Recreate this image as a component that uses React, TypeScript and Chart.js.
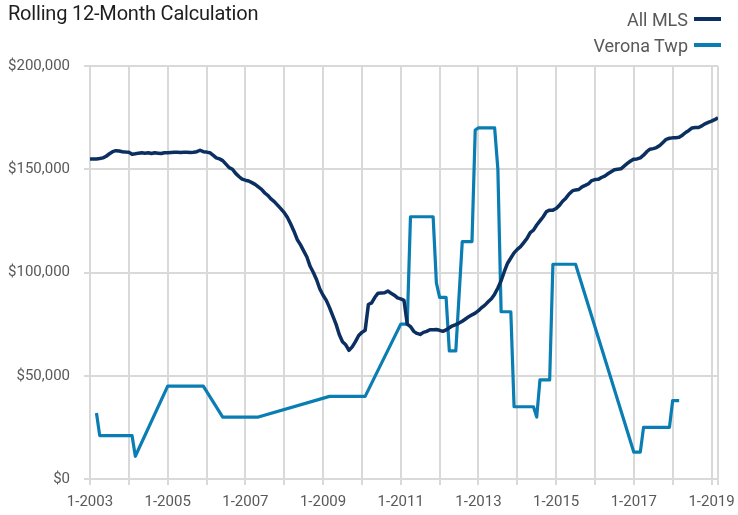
import React, { useEffect, useRef } from 'react';
import { Chart, registerables } from 'chart.js';

Chart.register(...registerables);

// ---- data ----
const START_YEAR = 2003;
const TITLE = 'Rolling 12-Month Calculation';
const SERIES_NAMES = ['All MLS', 'Verona Twp'];
const SERIES_COLORS = ['#0b2f60', '#0a7db2'];

// All MLS, monthly from 1-2003 to 3-2019
const mlsValues = [
  155000, 155000, 155000, 155200, 155500, 156300, 157500, 158500, 159000, 158800, 158500, 158300,
  158200, 157300, 157500, 157800, 158000, 157800, 158000, 157600, 158000, 157800, 157600, 158000,
  158000, 158100, 158200, 158200, 158100, 158200, 158200, 158100, 158200, 158500, 159200, 158500,
  158300, 158000, 156800, 155500, 155000, 154200, 152500, 150800, 150000, 148000, 146500, 145200,
  144700, 144300, 143500, 142700, 141500, 140300, 138500, 137200, 135500, 134200, 132500, 130800,
  129000, 126600, 123500, 120000, 116000, 113500, 110500, 107500, 103000, 100000, 96500, 92000,
  89000, 86500, 83000, 79000, 75000, 70000, 66500, 65000, 62300, 64000, 66500, 69500,
  71000, 72000, 84500, 85300, 88000, 90000, 90100, 90200, 91000, 90000, 89000, 87700,
  87200, 86500, 75000, 73800, 71500, 70500, 70000, 71000, 71500, 72300, 72300, 72400,
  72000, 71500, 72200, 73200, 74200, 74800, 75500, 76400, 77500, 78600, 79500, 80300,
  81500, 83000, 84200, 85800, 87300, 89500, 92500, 96000, 100500, 104500, 107000, 109500,
  111200, 112500, 114500, 116500, 119300, 120500, 123000, 125000, 127000, 129500, 130200, 130200,
  131000, 132500, 134500, 136000, 138000, 139500, 140000, 140200, 141500, 142200, 143000, 144500,
  145000, 145100, 146000, 146700, 147800, 148800, 149800, 150000, 150200, 151500, 152800, 154000,
  154900, 155000, 155500, 156800, 158500, 159700, 160000, 160500, 161500, 163000, 164500, 165000,
  165200, 165300, 165500, 166500, 167800, 168800, 170000, 170200, 170200, 171000, 172000, 172700,
  173300, 174000, 175000,
];

// Verona Twp, reported months (index from 1-2003) and values
const veronaMonths = [
  2, 3, 13, 14, 24, 35, 41, 52, 74, 85, 96, 98, 99, 106, 107, 108, 110, 111, 113, 115,
  118, 119, 120, 125, 126, 127, 130, 131, 137, 138, 139, 142, 143, 150, 168, 170, 171, 179, 180, 182,
];
const veronaValues = [
  32000, 21000, 21000, 11000, 45000, 45000, 30000, 30000, 40000, 40000, 75000, 75000, 127000, 127000, 95000, 88000, 88000, 62000, 62000, 115000,
  115000, 169000, 170000, 170000, 150000, 81000, 81000, 35000, 35000, 30000, 48000, 48000, 104000, 104000, 13000, 13000, 25000, 25000, 38000, 38000,
];

const yTickValues = [0, 50000, 100000, 150000, 200000];
const xGridMonths = [0, 12, 24, 36, 48, 60, 72, 84, 96, 108, 120, 132, 144, 156, 168, 180, 192, 194];
const xLabelEvery = 24;

const FONT = "Roboto, 'Liberation Sans', sans-serif";
const GRID = '#d9d9d9';
const TEXT = '#595959';

function monthLabel(m: number): string {
  return `${(m % 12) + 1}-${START_YEAR + Math.floor(m / 12)}`;
}

export default function App() {
  const canvasRef = useRef<HTMLCanvasElement | null>(null);

  useEffect(() => {
    document.body.style.margin = '0';
    const canvas = canvasRef.current;
    if (!canvas) return;
    const mlsData = mlsValues.map((v, i) => ({ x: i, y: v }));
    const veronaData = veronaMonths.map((m, i) => ({ x: m, y: veronaValues[i] }));
    const chart = new Chart(canvas, {
      type: 'line',
      data: {
        datasets: [
          {
            label: SERIES_NAMES[0],
            data: mlsData,
            borderColor: SERIES_COLORS[0],
            backgroundColor: SERIES_COLORS[0],
            borderWidth: 3.5,
            pointRadius: 0,
            tension: 0,
            borderJoinStyle: 'round',
          },
          {
            label: SERIES_NAMES[1],
            data: veronaData,
            borderColor: SERIES_COLORS[1],
            backgroundColor: SERIES_COLORS[1],
            borderWidth: 3.2,
            pointRadius: 0,
            tension: 0,
            borderJoinStyle: 'round',
          },
        ],
      },
      options: {
        animation: false,
        responsive: false,
        layout: { padding: { left: 8, top: 66, right: 20, bottom: 7 } },
        plugins: {
          legend: { display: false },
          title: { display: false },
          tooltip: { enabled: false },
        },
        scales: {
          x: {
            type: 'linear',
            min: 0,
            max: mlsValues.length - 1,
            afterBuildTicks: (axis: any) => {
              axis.ticks = xGridMonths.map((v) => ({ value: v }));
            },
            afterFit: (scale: any) => {
              scale.height = 29;
            },
            grid: { color: GRID, lineWidth: 2, drawTicks: true, tickLength: 6, tickColor: GRID },
            border: { display: true, color: GRID, width: 2 },
            ticks: {
              autoSkip: false,
              maxRotation: 0,
              minRotation: 0,
              padding: 8,
              color: TEXT,
              font: { family: FONT, size: 15 },
              callback: (value: any) => {
                const v = Number(value);
                return v % xLabelEvery === 0 ? monthLabel(v) : '';
              },
            },
          },
          y: {
            min: 0,
            max: 200000,
            afterBuildTicks: (axis: any) => {
              axis.ticks = yTickValues.map((v) => ({ value: v }));
            },
            afterFit: (scale: any) => {
              scale.width = 82;
            },
            grid: { color: GRID, lineWidth: 2, drawTicks: true, tickLength: 6, tickColor: GRID },
            border: { display: true, color: GRID, width: 2 },
            ticks: {
              padding: 14,
              color: TEXT,
              font: { family: FONT, size: 15 },
              callback: (value: any) => '$' + Number(value).toLocaleString('en-US'),
            },
          },
        },
      },
    });
    return () => chart.destroy();
  }, []);

  return (
    <div style={{ position: 'relative', width: 738, height: 515, background: '#fff' }}>
      <canvas ref={canvasRef} width={738} height={515} style={{ position: 'absolute', left: 0, top: 0 }} />
      <div
        style={{
          position: 'absolute',
          left: 8,
          top: 0,
          fontFamily: FONT,
          fontSize: 20,
          letterSpacing: -0.2,
          lineHeight: '26px',
          color: '#1e1e1e',
          whiteSpace: 'nowrap',
        }}
      >
        {TITLE}
      </div>
      <div
        style={{
          position: 'absolute',
          right: 17,
          top: 6,
          fontFamily: FONT,
          fontSize: 18,
          color: TEXT,
          display: 'flex',
          flexDirection: 'column',
          alignItems: 'flex-end',
        }}
      >
        {SERIES_NAMES.map((name, i) => (
          <div key={name} style={{ display: 'flex', alignItems: 'center', height: 26, whiteSpace: 'nowrap' }}>
            <span>{name}</span>
            <span
              style={{
                display: 'inline-block',
                width: 27,
                height: 4,
                marginLeft: 6,
                background: SERIES_COLORS[i],
              }}
            />
          </div>
        ))}
      </div>
    </div>
  );
}
